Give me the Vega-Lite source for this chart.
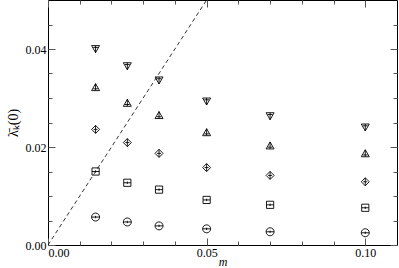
{
  "$schema": "https://vega.github.io/schema/vega-lite/v6.json",
  "width": 349,
  "height": 245,
  "autosize": {"type": "none"},
  "padding": {"left": 48, "top": 0, "right": 2, "bottom": 23},
  "config": {
    "view": {"stroke": "black", "strokeWidth": 1},
    "axis": {
      "domain": false,
      "grid": false,
      "labelFont": "Liberation Serif",
      "labelFontSize": 12,
      "labelColor": "black",
      "titleFont": "Liberation Serif",
      "titleColor": "black",
      "tickColor": "#555"
    }
  },
  "datasets": {
    "pts": [
      {"m": 0.015, "lam": 0.0400, "s": "a"},
      {"m": 0.025, "lam": 0.0365, "s": "a"},
      {"m": 0.035, "lam": 0.0336, "s": "a"},
      {"m": 0.05, "lam": 0.0293, "s": "a"},
      {"m": 0.07, "lam": 0.0263, "s": "a"},
      {"m": 0.10, "lam": 0.0240, "s": "a"},
      {"m": 0.015, "lam": 0.0322, "s": "b"},
      {"m": 0.025, "lam": 0.0290, "s": "b"},
      {"m": 0.035, "lam": 0.0265, "s": "b"},
      {"m": 0.05, "lam": 0.0230, "s": "b"},
      {"m": 0.07, "lam": 0.0203, "s": "b"},
      {"m": 0.10, "lam": 0.0187, "s": "b"},
      {"m": 0.015, "lam": 0.0236, "s": "c"},
      {"m": 0.025, "lam": 0.0209, "s": "c"},
      {"m": 0.035, "lam": 0.0187, "s": "c"},
      {"m": 0.05, "lam": 0.0158, "s": "c"},
      {"m": 0.07, "lam": 0.0142, "s": "c"},
      {"m": 0.10, "lam": 0.0129, "s": "c"},
      {"m": 0.015, "lam": 0.0150, "s": "d"},
      {"m": 0.025, "lam": 0.0127, "s": "d"},
      {"m": 0.035, "lam": 0.0113, "s": "d"},
      {"m": 0.05, "lam": 0.0092, "s": "d"},
      {"m": 0.07, "lam": 0.0082, "s": "d"},
      {"m": 0.10, "lam": 0.0076, "s": "d"},
      {"m": 0.015, "lam": 0.0057, "s": "e"},
      {"m": 0.025, "lam": 0.0047, "s": "e"},
      {"m": 0.035, "lam": 0.0039, "s": "e"},
      {"m": 0.05, "lam": 0.0033, "s": "e"},
      {"m": 0.07, "lam": 0.0027, "s": "e"},
      {"m": 0.10, "lam": 0.0025, "s": "e"}
    ],
    "diag": [
      {"m": 0, "lam": 0},
      {"m": 0.05, "lam": 0.05}
    ]
  },
  "resolve": {"axis": {"x": "independent", "y": "independent"}},
  "layer": [
    {
      "data": {"name": "diag"},
      "mark": {"type": "line", "color": "black", "strokeWidth": 0.8, "strokeDash": [4, 3], "clip": true},
      "encoding": {
        "x": {"field": "m", "type": "quantitative", "scale": {"domain": [0, 0.11], "nice": false, "zero": false},
          "axis": {"orient": "bottom", "values": [0, 0.05, 0.1], "format": ".2f", "tickSize": -7, "labelPadding": 9, "title": "m", "titleFontStyle": "italic", "titleFontWeight": "normal", "titleFontSize": 12, "titlePadding": -2}},
        "y": {"field": "lam", "type": "quantitative", "scale": {"domain": [0, 0.05], "nice": false, "zero": false},
          "axis": {"orient": "left", "values": [0, 0.02, 0.04], "format": ".2f", "tickSize": -7, "labelPadding": 9, "title": "λ̄ₖ(0)", "titleFontWeight": "normal", "titleFontSize": 14, "titlePadding": 5}}
      }
    },
    {
      "data": {"name": "pts"},
      "mark": {"type": "point", "filled": false, "stroke": "black", "strokeWidth": 0.9, "size": 64, "opacity": 1},
      "encoding": {
        "x": {"field": "m", "type": "quantitative",
          "axis": {"orient": "bottom", "values": [0.01, 0.02, 0.03, 0.04, 0.06, 0.07, 0.08, 0.09], "labels": false, "tickSize": -4, "title": null}},
        "y": {"field": "lam", "type": "quantitative",
          "axis": {"orient": "left", "values": [0.005, 0.01, 0.015, 0.025, 0.03, 0.035, 0.045], "labels": false, "tickSize": -4, "title": null}},
        "shape": {"field": "s", "type": "nominal", "legend": null,
          "scale": {"domain": ["a", "b", "c", "d", "e"],
            "range": [
              "M-1,-0.85L1,-0.85L0,0.9Z M0,-0.85L0,0.9 M-0.6,-0.4L0.6,-0.4",
              "M-1,0.85L1,0.85L0,-0.9Z M0,-0.9L0,0.85 M-0.6,0.4L0.6,0.4",
              "M0,-1L1,0L0,1L-1,0Z M0,-1L0,1 M-0.5,0L0.5,0",
              "M-0.9,-0.9L0.9,-0.9L0.9,0.9L-0.9,0.9Z M-0.9,0L0.9,0 M0,-0.3L0,0.3",
              "M-1,0A1,1 0 1,1 1,0A1,1 0 1,1 -1,0Z M-1,0L1,0 M0,-0.3L0,0.3"
            ]}}
      }
    },
    {
      "data": {"name": "pts"},
      "mark": {"type": "point", "opacity": 0},
      "encoding": {
        "x": {"field": "m", "type": "quantitative",
          "axis": {"orient": "top", "values": [0, 0.05, 0.1], "labels": false, "tickSize": -7, "title": null}},
        "y": {"field": "lam", "type": "quantitative",
          "axis": {"orient": "right", "values": [0, 0.02, 0.04], "labels": false, "tickSize": -7, "title": null}}
      }
    },
    {
      "data": {"name": "pts"},
      "mark": {"type": "point", "opacity": 0},
      "encoding": {
        "x": {"field": "m", "type": "quantitative",
          "axis": {"orient": "top", "values": [0.01, 0.02, 0.03, 0.04, 0.06, 0.07, 0.08, 0.09], "labels": false, "tickSize": -4, "title": null}},
        "y": {"field": "lam", "type": "quantitative",
          "axis": {"orient": "right", "values": [0.005, 0.01, 0.015, 0.025, 0.03, 0.035, 0.045], "labels": false, "tickSize": -4, "title": null}}
      }
    }
  ]
}
